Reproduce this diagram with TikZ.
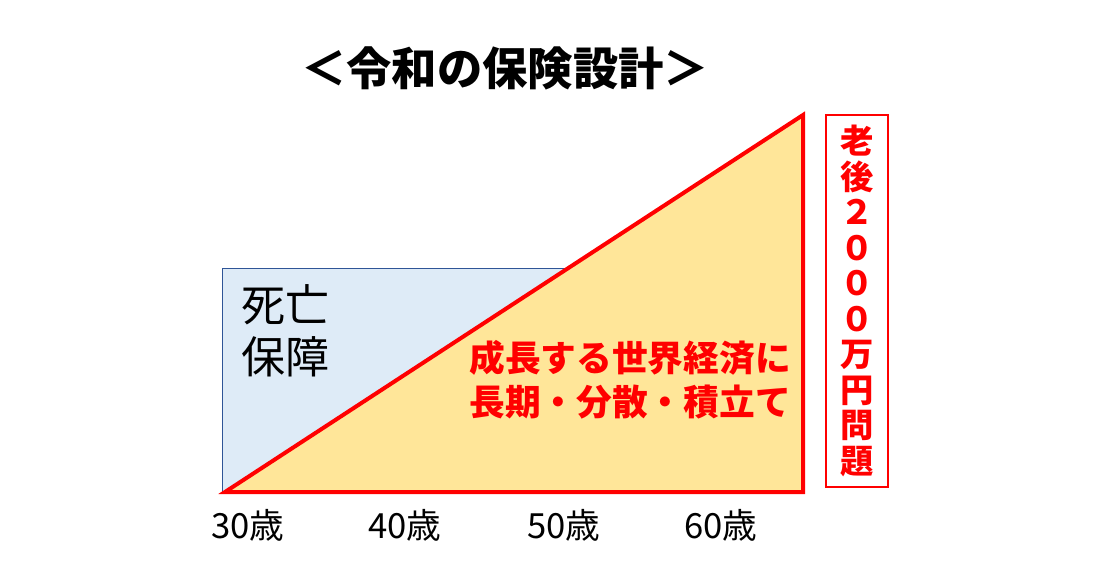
\documentclass[tikz,border=0pt]{standalone}
\usepackage{fontspec}
\setmainfont{Noto Sans CJK JP}
\definecolor{lifeblue}{HTML}{DEEBF7}
\definecolor{lifeline}{HTML}{2F5597}
\definecolor{fundyellow}{HTML}{FFE699}
\definecolor{alertred}{HTML}{FF0000}

\begin{document}
\begin{tikzpicture}[
        x=0.75pt, y=-0.75pt,
        title/.style={font=\fontsize{34}{40}\bfseries\selectfont},
        cover/.style={font=\fontsize{33}{39}\selectfont, align=left, anchor=west, inner sep=0pt},
        growth/.style={font=\fontsize{26.8}{33}\bfseries\selectfont, text=alertred, align=left, anchor=west, inner sep=0pt},
        age/.style={font=\fontsize{26}{30}\selectfont, inner sep=0pt},
        gapbox/.style={draw=alertred, line width=2pt, minimum width=46.5pt, minimum height=279pt, inner sep=0pt,
          font=\fontsize{25}{26.6}\bfseries\selectfont, text=alertred, align=center}
      ]
      \useasboundingbox (0,0) rectangle (1095,577);
      \node[title] (title) at (505,68) {＜令和の保険設計＞};
      % death cover, partly hidden under the triangle
      \draw[lifeline, fill=lifeblue, line width=0.75pt] (222,268) rectangle (700,492);
      \coordinate (start) at (225,492);
      \coordinate (peak) at (803,115);
      \coordinate (corner) at (803,492);
      \draw[alertred, fill=fundyellow, line width=3pt, line join=miter] (start) -- (peak) -- (corner) -- cycle;
      \node[cover] (death) at (241,331) {死亡\\保障};
      \node[growth] (invest) at (469,380) {成長する世界経済に\\長期・分散・積立て};
      \node[gapbox] (gap) at (857,301) {老\\後\\２\\０\\０\\０\\万\\円\\問\\題};
      \node[age] (a30) at (248,525) {30歳};
      \node[age] (a40) at (405,525) {40歳};
      \node[age] (a50) at (564,525) {50歳};
      \node[age] (a60) at (721,525) {60歳};
    \end{tikzpicture}
\end{document}
